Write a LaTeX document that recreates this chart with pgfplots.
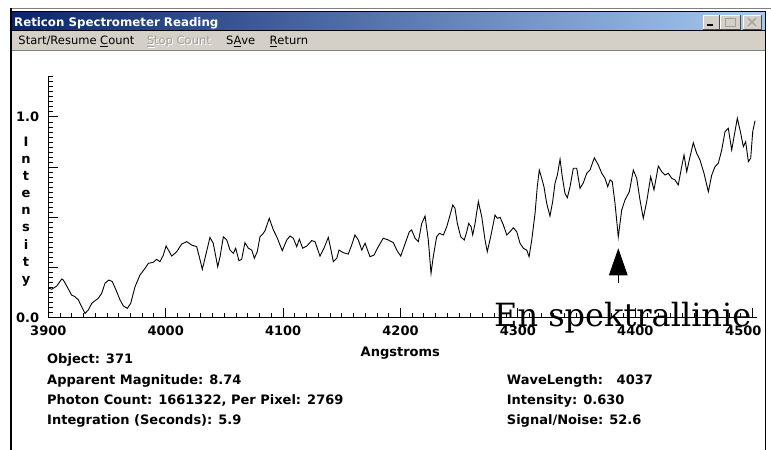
\documentclass[border=0pt]{standalone}
\usepackage{pgfplots}
\pgfplotsset{compat=1.18}
\usetikzlibrary{arrows.meta}
\usepackage{fontspec}
\setmainfont{DejaVu Sans}
\newfontfamily\uifont{DejaVu Sans}
\newfontfamily\serifont{DejaVu Serif}
\definecolor{tbdark}{HTML}{0A246A}
\definecolor{tblight}{HTML}{A6CAF0}
\definecolor{btnface}{HTML}{D4D0C8}
\definecolor{btnshadow}{HTML}{808080}
\definecolor{graytext}{HTML}{A0A0A0}
\newcommand\lbl{\uifont\bfseries\fontsize{13bp}{15bp}\selectfont}
\newcommand\menufont{\uifont\fontsize{11.5bp}{13bp}\selectfont}

\pgfplotstableread{
lambda I
3900.0 0.149
3902.9 0.143
3907.2 0.159
3911.4 0.194
3912.8 0.189
3915.7 0.159
3919.9 0.114
3922.7 0.106
3925.6 0.090
3928.4 0.056
3931.3 0.023
3934.1 0.040
3937.0 0.073
3939.8 0.086
3942.6 0.098
3945.5 0.123
3948.3 0.173
3951.7 0.189
3954.5 0.181
3957.7 0.139
3961.1 0.090
3963.9 0.060
3967.3 0.048
3970.2 0.073
3973.9 0.156
3978.1 0.214
3982.4 0.247
3985.2 0.272
3989.4 0.277
3992.3 0.292
3995.1 0.280
3998.0 0.313
4000.3 0.358
4003.1 0.330
4005.1 0.308
4009.4 0.330
4013.6 0.368
4017.9 0.380
4022.1 0.363
4026.4 0.355
4028.6 0.305
4031.2 0.242
4034.1 0.313
4037.7 0.401
4040.5 0.372
4044.3 0.255
4046.3 0.305
4049.1 0.404
4052.0 0.388
4054.8 0.338
4057.6 0.322
4059.6 0.347
4062.4 0.285
4064.7 0.292
4067.5 0.375
4070.4 0.347
4073.3 0.338
4075.5 0.297
4078.0 0.330
4080.3 0.404
4083.1 0.421
4084.6 0.434
4088.2 0.496
4091.7 0.438
4094.6 0.404
4099.3 0.335
4103.1 0.388
4105.9 0.408
4108.7 0.397
4111.6 0.355
4113.8 0.392
4116.7 0.347
4120.1 0.358
4124.4 0.385
4127.2 0.380
4131.4 0.308
4134.8 0.347
4138.5 0.401
4140.5 0.347
4142.8 0.280
4145.7 0.297
4147.6 0.338
4151.3 0.325
4155.5 0.318
4158.4 0.363
4161.2 0.413
4164.1 0.388
4167.0 0.338
4169.8 0.372
4174.0 0.305
4177.4 0.313
4181.1 0.355
4185.3 0.397
4189.6 0.388
4193.9 0.375
4196.8 0.338
4200.2 0.308
4203.8 0.368
4207.5 0.429
4209.5 0.438
4212.4 0.397
4215.2 0.380
4218.1 0.471
4220.9 0.507
4223.7 0.388
4226.0 0.222
4227.9 0.305
4230.8 0.404
4233.1 0.421
4236.5 0.413
4239.4 0.454
4242.2 0.512
4244.5 0.562
4246.4 0.546
4248.4 0.471
4251.3 0.404
4254.3 0.388
4256.4 0.429
4258.1 0.471
4260.1 0.454
4261.5 0.413
4263.5 0.471
4266.3 0.579
4269.2 0.504
4272.0 0.388
4273.9 0.330
4276.8 0.404
4280.5 0.512
4282.5 0.496
4284.8 0.501
4287.6 0.463
4290.5 0.413
4293.3 0.429
4296.1 0.449
4299.0 0.429
4301.8 0.372
4304.6 0.347
4307.5 0.338
4309.5 0.305
4311.8 0.388
4314.6 0.521
4316.5 0.653
4318.2 0.736
4320.3 0.695
4322.2 0.653
4324.5 0.571
4327.3 0.507
4329.6 0.579
4331.6 0.670
4333.6 0.711
4335.9 0.790
4337.8 0.703
4340.1 0.620
4342.1 0.598
4344.4 0.653
4347.2 0.745
4350.1 0.745
4352.9 0.645
4355.7 0.672
4358.6 0.720
4361.4 0.736
4365.1 0.797
4368.5 0.761
4371.4 0.720
4374.2 0.695
4376.5 0.653
4378.5 0.687
4380.4 0.678
4382.7 0.571
4385.5 0.404
4388.4 0.537
4391.2 0.587
4394.9 0.628
4398.3 0.736
4401.2 0.695
4404.0 0.587
4406.8 0.496
4409.7 0.579
4413.1 0.703
4415.9 0.637
4419.6 0.756
4422.5 0.728
4425.3 0.711
4428.1 0.720
4431.0 0.695
4433.8 0.687
4436.6 0.662
4439.5 0.753
4441.5 0.811
4443.8 0.728
4446.6 0.802
4449.4 0.872
4452.3 0.819
4455.1 0.786
4458.5 0.720
4462.2 0.628
4465.1 0.711
4467.9 0.753
4470.7 0.770
4473.6 0.836
4476.4 0.927
4479.2 0.944
4482.1 0.836
4484.1 0.902
4486.9 0.994
4489.8 0.919
4492.0 0.852
4494.0 0.877
4496.3 0.778
4498.3 0.795
4500.0 0.927
4502.0 0.982
}\spectrum

\begin{document}
\begin{tikzpicture}
\useasboundingbox (0,0) rectangle (771bp,450bp);
\fill[white] (0,0) rectangle (771bp,450bp);
\begin{scope}[yshift=450bp,x=1bp,y=-1bp]
  % window frame
  \draw[btnshadow,line width=1bp] (10,8.5) -- (771,8.5);
  \shade[left color=tbdark,right color=tblight] (11.5,12) rectangle (765.5,31);
  \fill[btnface] (11.5,31) rectangle (765.5,50);
  \draw[btnshadow,line width=1.5bp] (11.5,50.5) -- (765.5,50.5);
  \draw[black,line width=1bp] (11.5,12) -- (765.5,12);
  \draw[black,line width=1bp] (11.5,31) -- (765.5,31);
  \draw[black,line width=1.2bp] (11,8) -- (11,450);
  \draw[black,line width=1.2bp] (765.5,12) -- (765.5,450);
  % title
  \node[anchor=base west,inner sep=0pt,text=white] at (14,26.7)
    {\uifont\bfseries\fontsize{11.8bp}{13bp}\selectfont Reticon Spectrometer Reading};
  % title buttons
  \foreach \a/\b in {703/719,720/740,743/761}{
    \fill[btnface] (\a,15) rectangle (\b,29);
    \draw[white,line width=0.8bp] (\a,29) -- (\a,15) -- (\b,15);
    \draw[black!70,line width=0.8bp] (\a,29) -- (\b,29) -- (\b,15);
  }
  \fill[black] (707,24.5) rectangle (713,26.5);
  \draw[graytext,line width=0.8bp] (725,18) rectangle (735,26);
  \draw[graytext,line width=1.6bp] (725,18.5) -- (735,18.5);
  \draw[graytext,line width=1.2bp] (748,18) -- (756,26) (748,26) -- (756,18);
  % menu
  \node[anchor=base west,inner sep=0pt] at (18.3,45) {\menufont Start/Resume \underline{C}ount};
  \node[anchor=base west,inner sep=0pt,text=white] at (147.7,46) {\menufont \underline{S}top Count};
  \node[anchor=base west,inner sep=0pt,text=graytext] at (146.7,45) {\menufont \underline{S}top Count};
  \node[anchor=base west,inner sep=0pt] at (226,45) {\menufont S\underline{A}ve};
  \node[anchor=base west,inner sep=0pt] at (269.3,45) {\menufont \underline{R}eturn};
  % y label, stacked letters
  \foreach \ch/\yy in {I/146.5,n/163.6,t/180.7,e/197.8,n/214.9,s/232.0,i/249.1,t/266.2,y/283.3}{
    \node[anchor=base,inner sep=0pt] at (26,\yy) {\lbl \ch};
  }
  % x label
  \node[anchor=base,inner sep=0pt] at (400.3,357) {\lbl Angstroms};
  % info text
  \node[anchor=base west,inner sep=0pt] at (47,363.3) {\lbl Object: 371};
  \node[anchor=base west,inner sep=0pt] at (47,384.3) {\lbl Apparent Magnitude: 8.74};
  \node[anchor=base west,inner sep=0pt] at (47,404.2) {\lbl Photon Count: 1661322, Per Pixel: 2769};
  \node[anchor=base west,inner sep=0pt] at (47,425) {\lbl Integration (Seconds): 5.9};
  \node[anchor=base west,inner sep=0pt] at (506.7,384.3) {\lbl WaveLength:~~~4037};
  \node[anchor=base west,inner sep=0pt] at (506.7,404.2) {\lbl Intensity: 0.630};
  \node[anchor=base west,inner sep=0pt] at (506.7,424.5) {\lbl Signal/Noise: 52.6};
\end{scope}

\begin{axis}[
  at={(48.3bp,132bp)}, anchor=south west,
  scale only axis, width=709.1bp, height=241.2bp,
  xmin=3900, xmax=4504, ymin=0, ymax=1.2,
  axis lines=left, axis line style={-,black,line width=1bp},
  xtick={3900,4000,4100,4200,4300,4400,4500},
  xticklabels={3900,4000,4100,4200,4300,4400,{4500\hspace*{18.6bp}}},
  minor xtick={3900,3910,...,4500},
  ytick={0,0.25,0.5,0.75,1},
  yticklabels={0.0,{},{},{},1.0},
  minor ytick={0,0.025,...,1.21},
  tick align=inside,
  major tick length=10bp, minor tick length=5bp,
  every tick/.style={black,line width=1bp},
  tick label style={font=\lbl},
  xticklabel style={anchor=north,inner sep=0pt,yshift=-7.5bp},
  yticklabel style={anchor=east,inner sep=0pt,xshift=-9bp},
]
\addplot[black,line width=0.9bp,mark=none] table[x=lambda,y=I] {\spectrum};
\draw[black,line width=1bp,-{Triangle[length=27bp,width=18.5bp]}]
  (axis cs:4385.5,0.174) -- (axis cs:4385.5,0.347);
\end{axis}

\begin{scope}[yshift=450bp,x=1bp,y=-1bp]
  \node[anchor=base west,inner sep=0pt] at (494,327)
    {\serifont\fontsize{32bp}{36bp}\selectfont En spektrallinie};
\end{scope}
\end{tikzpicture}
\end{document}
